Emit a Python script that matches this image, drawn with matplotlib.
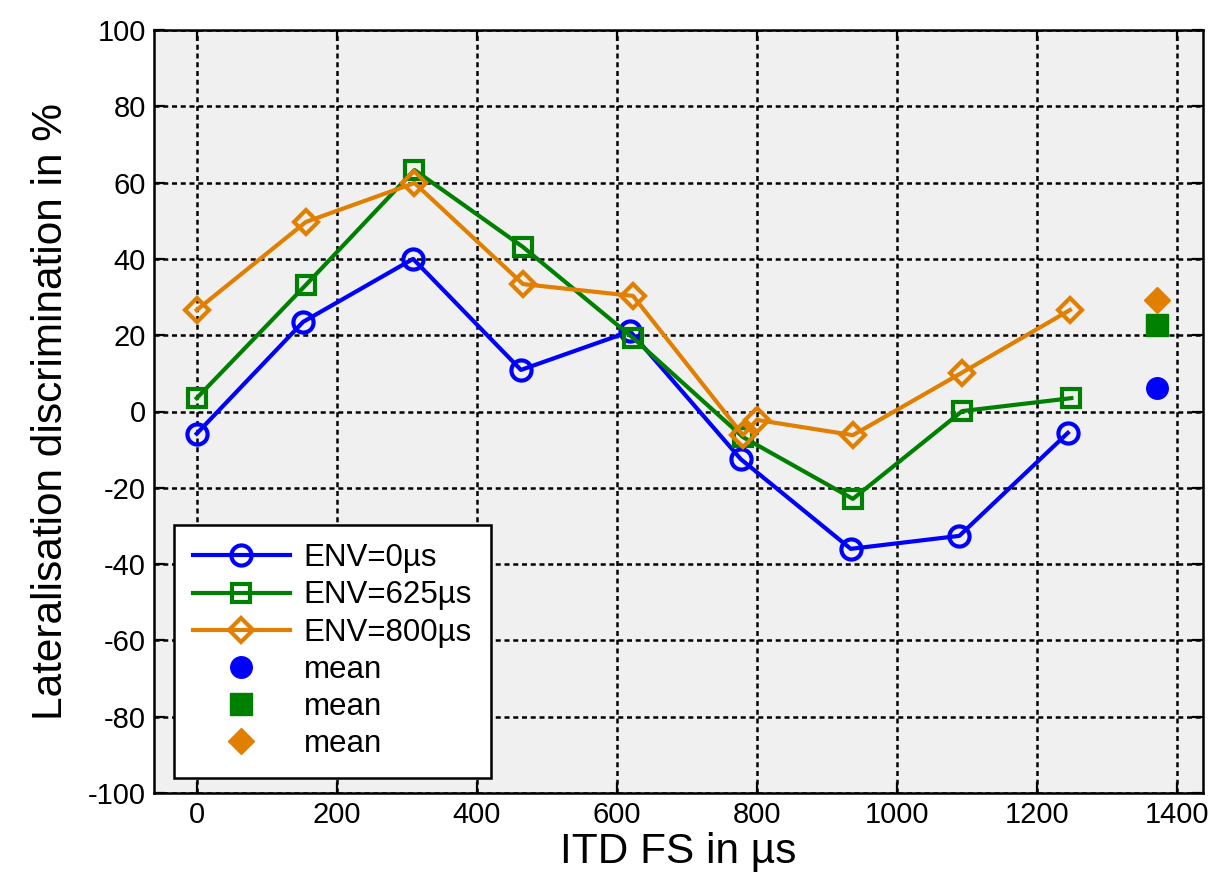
import matplotlib
matplotlib.use("Agg")
import matplotlib.pyplot as plt

plt.rcParams['font.family'] = ['Liberation Sans', 'DejaVu Sans']
plt.rcParams['axes.unicode_minus'] = False

x_env0 = [0, 152, 309, 463, 619, 777, 934, 1089, 1244]
y_env0 = [-5.8, 23.5, 40.0, 10.9, 21.0, -12.5, -36.0, -32.6, -5.6]

x_env625 = [0, 156, 311, 466, 623, 780, 937, 1093, 1249]
y_env625 = [3.5, 33.2, 63.3, 43.1, 19.3, -6.7, -22.9, 0.1, 3.5]

x_env800 = [0, 156, 311, 466, 623, 780, 800, 937, 1093, 1247]
y_env800 = [26.6, 49.7, 59.9, 33.4, 30.3, -6.2, -2.2, -6.2, 10.2, 26.6]

mean_x = 1371
mean_vals = [6.2, 22.7, 29.2]

labels = ['ENV=0µs', 'ENV=625µs', 'ENV=800µs', 'mean', 'mean', 'mean']
colors = ['#0000ff', '#008000', '#e07f00']

fig = plt.figure(figsize=(12.12, 8.74), dpi=100)
ax = fig.add_axes([154/1212, 1 - 793/874, (1203-154)/1212, (793-30)/874])
ax.set_facecolor('#f0f0f0')

lw = 3.0
mew = 3.0
ax.plot(x_env0, y_env0, '-o', color=colors[0], lw=lw, ms=14.5, mfc='none', mew=mew, label=labels[0])
ax.plot(x_env625, y_env625, '-s', color=colors[1], lw=lw, ms=13.5, mfc='none', mew=mew, label=labels[1])
ax.plot(x_env800, y_env800, '-D', color=colors[2], lw=lw, ms=12.5, mfc='none', mew=mew, label=labels[2])
ax.plot([mean_x], [mean_vals[0]], 'o', color=colors[0], ms=15.5, ls='none', label=labels[3])
ax.plot([mean_x], [mean_vals[1]], 's', color=colors[1], ms=15.5, ls='none', label=labels[4])
ax.plot([mean_x], [mean_vals[2]], 'D', color=colors[2], ms=13, ls='none', label=labels[5])

ax.set_xlim(-61, 1437)
ax.set_ylim(-100, 100)
ax.set_xticks(range(0, 1401, 200))
ax.set_yticks(range(-100, 101, 20))
ax.grid(True, color='black', linestyle=(0, (2, 1.5)), linewidth=1.8)
ax.set_axisbelow(True)
ax.tick_params(direction='in', top=True, right=True, labelsize=21, length=8, width=1.6, pad=6)
for s in ax.spines.values():
    s.set_linewidth(1.8)

ax.set_xlabel('ITD FS in µs', fontsize=30.5, labelpad=2)
ax.set_ylabel('Lateralisation discrimination in %', fontsize=30.5, labelpad=12)

leg = ax.legend(loc='lower left', bbox_to_anchor=(0.019, 0.0197), borderaxespad=0, fontsize=22.5,
                frameon=True, fancybox=False, edgecolor='black', facecolor='white', framealpha=1,
                handlelength=3.1, borderpad=0.6, labelspacing=0.23, handletextpad=0.45)
leg.get_frame().set_linewidth(1.8)

fig.savefig('out.png', dpi=100)
